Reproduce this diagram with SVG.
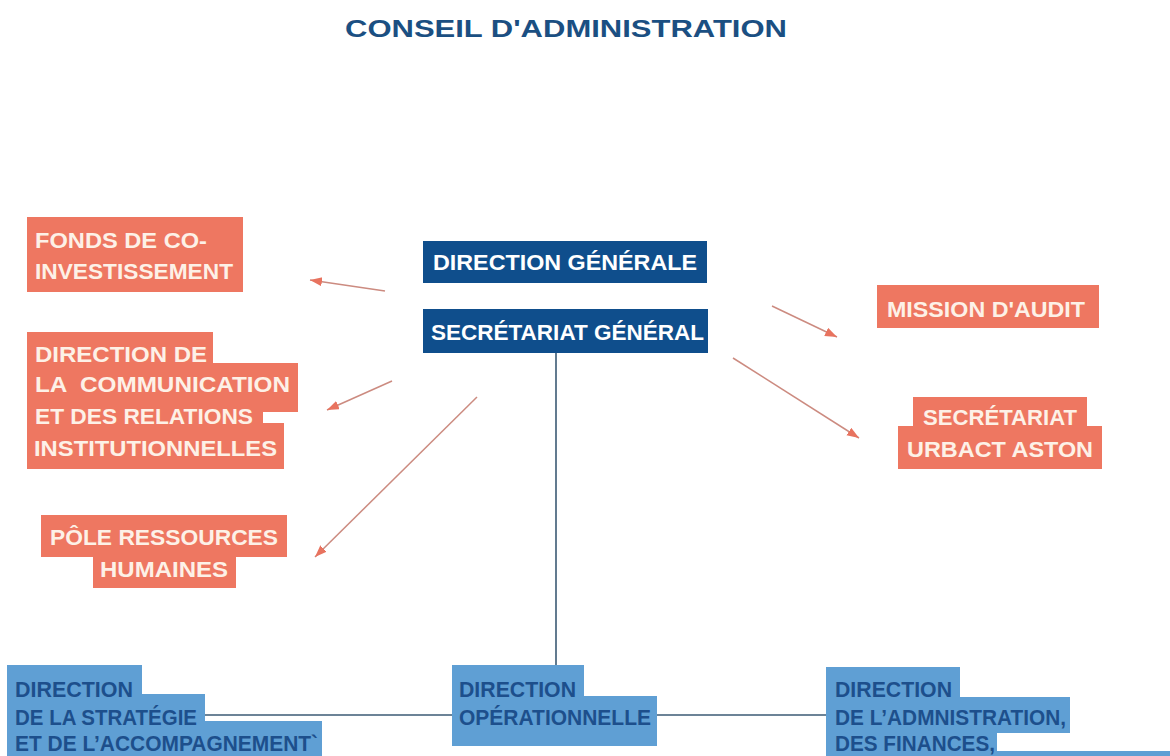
<svg xmlns="http://www.w3.org/2000/svg" width="1170" height="756" viewBox="0 0 1170 756">
<defs>
<style>
text{font-family:"Liberation Sans",Arial,sans-serif;font-weight:bold;font-size:22px}
.t{fill:#1b4f82;font-size:23.5px}
.o{fill:#ee7761}
.ot{fill:#fdf1e7}
.n{fill:#0f4e8c}
.nt{fill:#ffffff}
.b{fill:#5f9fd4}
.bt{fill:#1d4f8c}
.arr{stroke:#cc8b80;stroke-width:1.5;fill:none;marker-end:url(#ah)}
.con{stroke:#3b5a74;stroke-width:1.6;fill:none}
</style>
<marker id="ah" markerUnits="userSpaceOnUse" markerWidth="14" markerHeight="11" refX="12" refY="4.5" orient="auto">
<path d="M0,0 L12,4.5 L0,9 Z" fill="#e8735f"/>
</marker>
</defs>
<rect width="1170" height="756" fill="#ffffff"/>

<g id="title">
<text class="t" x="345" y="37" textLength="442" lengthAdjust="spacingAndGlyphs">CONSEIL D'ADMINISTRATION</text>
</g>

<g id="connectors">
<line class="arr" x1="385" y1="291" x2="310" y2="280"/>
<line class="arr" x1="392" y1="381" x2="327" y2="410"/>
<line class="arr" x1="477" y1="397" x2="315" y2="557"/>
<line class="arr" x1="772" y1="306" x2="837" y2="337"/>
<line class="arr" x1="733" y1="358" x2="859" y2="438"/>
<line class="con" x1="556" y1="353" x2="556" y2="665"/>
<line class="con" x1="205" y1="715" x2="452" y2="715"/>
<line class="con" x1="657" y1="715" x2="826" y2="715"/>
</g>

<g id="fonds">
<rect class="o" x="27" y="217" width="216" height="75"/>
<text class="ot" x="35" y="248" textLength="172" lengthAdjust="spacingAndGlyphs">FONDS DE CO-</text>
<text class="ot" x="35" y="279" textLength="198" lengthAdjust="spacingAndGlyphs">INVESTISSEMENT</text>
</g>

<g id="communication">
<rect class="o" x="27" y="332" width="186" height="36"/>
<rect class="o" x="27" y="363" width="271" height="49"/>
<rect class="o" x="27" y="405" width="236" height="23"/>
<rect class="o" x="27" y="423" width="257" height="46"/>
<text class="ot" x="35" y="362" textLength="172" lengthAdjust="spacingAndGlyphs">DIRECTION DE</text>
<text class="ot" x="35" y="392" textLength="255" lengthAdjust="spacingAndGlyphs" style="white-space:pre">LA  COMMUNICATION</text>
<text class="ot" x="35" y="424" textLength="218" lengthAdjust="spacingAndGlyphs">ET DES RELATIONS</text>
<text class="ot" x="34" y="456" textLength="243" lengthAdjust="spacingAndGlyphs">INSTITUTIONNELLES</text>
</g>

<g id="rh">
<rect class="o" x="41" y="515" width="246" height="42"/>
<rect class="o" x="93" y="555" width="143" height="33"/>
<text class="ot" x="50" y="545" textLength="228" lengthAdjust="spacingAndGlyphs">PÔLE RESSOURCES</text>
<text class="ot" x="100" y="577" textLength="128" lengthAdjust="spacingAndGlyphs">HUMAINES</text>
</g>

<g id="direction-generale">
<rect class="n" x="423" y="241" width="284" height="42"/>
<text class="nt" x="433" y="270" textLength="264" lengthAdjust="spacingAndGlyphs">DIRECTION GÉNÉRALE</text>
</g>

<g id="secretariat-general">
<rect class="n" x="423" y="309" width="285" height="44"/>
<text class="nt" x="431" y="340" textLength="273" lengthAdjust="spacingAndGlyphs">SECRÉTARIAT GÉNÉRAL</text>
</g>

<g id="audit">
<rect class="o" x="877" y="285" width="222" height="43"/>
<text class="ot" x="887" y="317" textLength="198" lengthAdjust="spacingAndGlyphs">MISSION D'AUDIT</text>
</g>

<g id="urbact">
<rect class="o" x="913" y="397" width="174" height="32"/>
<rect class="o" x="898" y="426" width="204" height="43"/>
<text class="ot" x="923" y="425" textLength="154" lengthAdjust="spacingAndGlyphs">SECRÉTARIAT</text>
<text class="ot" x="907" y="457" textLength="186" lengthAdjust="spacingAndGlyphs">URBACT ASTON</text>
</g>

<g id="strategie">
<rect class="b" x="7" y="665" width="135" height="35"/>
<rect class="b" x="7" y="694" width="198" height="30"/>
<rect class="b" x="7" y="721" width="315" height="35"/>
<text class="bt" x="15" y="697" textLength="118" lengthAdjust="spacingAndGlyphs">DIRECTION</text>
<text class="bt" x="15" y="725" textLength="182" lengthAdjust="spacingAndGlyphs">DE LA STRATÉGIE</text>
<text class="bt" x="15" y="751" textLength="303" lengthAdjust="spacingAndGlyphs">ET DE L’ACCOMPAGNEMENT`</text>
</g>

<g id="operationnelle">
<rect class="b" x="452" y="665" width="132" height="35"/>
<rect class="b" x="452" y="696" width="205" height="50"/>
<text class="bt" x="459" y="697" textLength="117" lengthAdjust="spacingAndGlyphs">DIRECTION</text>
<text class="bt" x="459" y="725" textLength="192" lengthAdjust="spacingAndGlyphs">OPÉRATIONNELLE</text>
</g>

<g id="administration">
<rect class="b" x="826" y="667" width="134" height="33"/>
<rect class="b" x="826" y="697" width="244" height="36"/>
<rect class="b" x="826" y="730" width="171" height="26"/>
<rect class="b" x="826" y="751" width="344" height="5"/>
<text class="bt" x="835" y="697" textLength="117" lengthAdjust="spacingAndGlyphs">DIRECTION</text>
<text class="bt" x="835" y="725" textLength="231" lengthAdjust="spacingAndGlyphs">DE L’ADMNISTRATION,</text>
<text class="bt" x="835" y="751" textLength="160" lengthAdjust="spacingAndGlyphs">DES FINANCES,</text>
</g>
</svg>
